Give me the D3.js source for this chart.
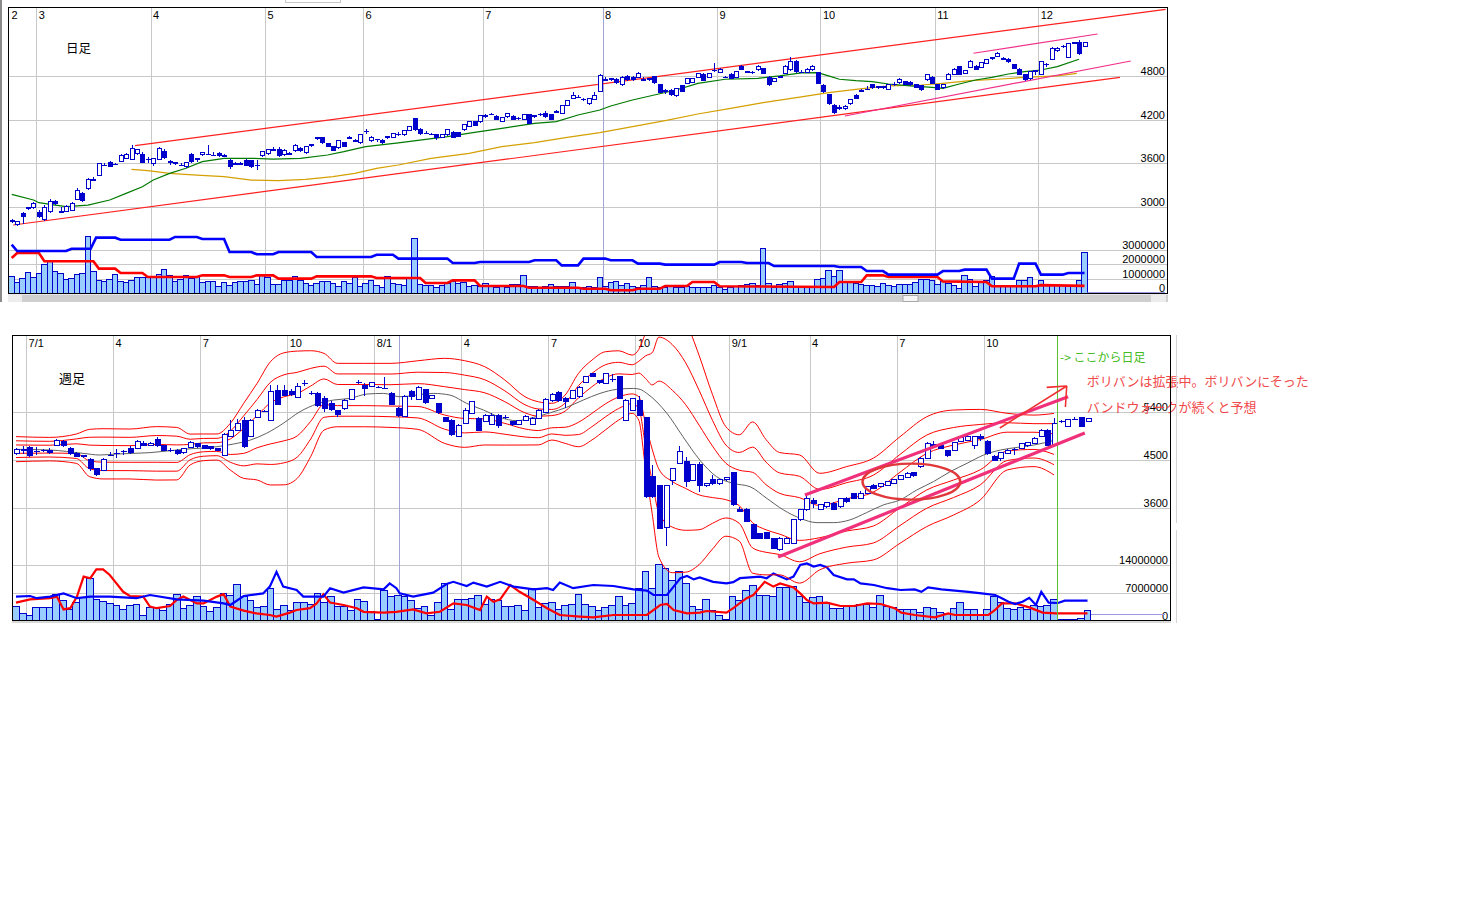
<!DOCTYPE html>
<html><head><meta charset="utf-8"><title>chart</title>
<script src="https://cdn.jsdelivr.net/npm/d3@7/dist/d3.min.js"></script>
<style>html,body{margin:0;padding:0;background:#fff;}svg{display:block;}</style>
</head><body>
<svg id="chart" width="1459" height="916"></svg>
<script>
// ================= DATA : daily chart (日足) =================
const dailyMonthLabels = ["2","3","4","5","6","7","8","9","10","11","12"];
const dailyMonthStart  = [0,5,26,47,65,87,109,130,149,170,189];
const dailyPriceTicks  = [3000,3600,4200,4800];
const dailyVolTicks    = [0,1,2,3]; // millions
// [open, high, low, close]
const dailyOHLC = [
[2800,2830,2770,2800],[2760,2800,2740,2790],[2910,2930,2760,2870],[2970,3000,2950,2980],[2990,3060,2970,3040],[2920,2950,2850,2860],[2820,3030,2800,2990],[2930,3110,2910,3070],[3070,3090,3030,3040],[2950,2990,2920,2930],
[2930,3020,2920,3000],[2950,3070,2940,3040],[3100,3260,3090,3220],[3180,3200,3060,3080],[3250,3400,3230,3370],[3390,3410,3360,3370],[3430,3600,3420,3590],[3590,3610,3560,3570],[3610,3630,3550,3560],[3590,3610,3570,3580],
[3630,3730,3620,3710],[3670,3740,3660,3720],[3650,3850,3640,3800],[3740,3800,3720,3790],[3720,3760,3600,3610],[3630,3680,3600,3650],[3590,3670,3560,3660],[3650,3830,3640,3800],[3760,3790,3660,3680],[3600,3640,3580,3620],
[3600,3620,3570,3600],[3590,3610,3560,3570],[3560,3620,3530,3610],[3720,3740,3610,3630],[3640,3670,3620,3660],[3720,3760,3700,3750],[3740,3850,3710,3720],[3730,3760,3700,3710],[3730,3750,3690,3700],[3710,3730,3690,3700],
[3640,3660,3520,3550],[3590,3620,3570,3590],[3600,3620,3580,3590],[3640,3660,3560,3570],[3640,3650,3540,3560],[3570,3640,3500,3570],[3710,3770,3690,3760],[3740,3800,3720,3790],[3800,3820,3770,3780],[3790,3820,3690,3700],
[3720,3790,3700,3780],[3740,3760,3720,3730],[3770,3870,3760,3850],[3810,3830,3760,3770],[3750,3840,3730,3830],[3850,3870,3830,3850],[3940,3960,3920,3950],[3950,3960,3870,3880],[3870,3880,3820,3830],[3830,3840,3770,3780],
[3820,3920,3800,3910],[3880,3900,3820,3830],[3950,3970,3930,3950],[3920,3930,3900,3910],[3880,4000,3870,3990],[4020,4070,4000,4040],[3920,3980,3900,3960],[3910,3940,3900,3930],[3920,3930,3870,3880],[3960,3980,3940,3960],
[3960,4020,3950,4010],[4010,4030,3980,4000],[3990,4060,3980,4050],[4050,4120,4040,4110],[4220,4230,4040,4060],[4070,4080,3990,4010],[4030,4040,4000,4010],[4000,4020,3990,4000],[3990,4000,3920,3950],[3960,4000,3950,3990],
[3990,4070,3980,4060],[4030,4040,3950,3960],[4020,4030,3960,3970],[4060,4140,4050,4130],[4110,4180,4100,4170],[4170,4180,4110,4120],[4170,4270,4160,4260],[4250,4280,4230,4250],[4290,4300,4260,4270],[4240,4260,4200,4210],
[4180,4240,4170,4230],[4240,4290,4230,4280],[4240,4260,4200,4210],[4220,4240,4200,4220],[4200,4280,4190,4270],[4270,4280,4140,4150],[4240,4260,4230,4250],[4270,4290,4250,4270],[4290,4320,4230,4240],[4270,4280,4200,4210],
[4310,4330,4290,4310],[4290,4410,4280,4400],[4400,4470,4390,4460],[4490,4590,4480,4540],[4520,4540,4500,4510],[4480,4500,4460,4480],[4420,4500,4410,4490],[4480,4580,4470,4540],[4590,4830,4580,4810],[4770,4790,4740,4750],
[4760,4780,4740,4760],[4750,4770,4700,4710],[4680,4810,4670,4790],[4800,4820,4740,4750],[4790,4800,4740,4750],[4790,4860,4780,4840],[4770,4790,4740,4750],[4760,4780,4740,4760],[4800,4810,4700,4710],[4680,4690,4570,4580],
[4600,4620,4560,4600],[4610,4630,4530,4550],[4540,4640,4520,4630],[4670,4680,4580,4590],[4700,4780,4690,4770],[4720,4780,4710,4770],[4780,4850,4770,4840],[4820,4840,4730,4740],[4790,4850,4780,4840],[4880,4980,4860,4880],
[4850,4910,4840,4900],[4780,4800,4770,4780],[4830,4840,4760,4770],[4790,4870,4780,4860],[4940,4960,4890,4900],[4860,4880,4840,4860],[4850,4870,4830,4850],[4890,4950,4880,4940],[4910,4920,4830,4840],[4790,4800,4660,4680],
[4730,4780,4720,4770],[4790,4810,4780,4790],[4840,4950,4830,4940],[4890,5060,4880,5000],[5010,5020,4850,4860],[4870,4890,4840,4850],[4850,4910,4840,4900],[4890,4950,4880,4940],[4850,4860,4690,4700],[4670,4690,4570,4590],
[4550,4560,4410,4420],[4400,4420,4280,4300],[4380,4400,4340,4360],[4350,4400,4330,4390],[4420,4490,4410,4480],[4540,4550,4480,4490],[4600,4620,4580,4600],[4640,4660,4610,4620],[4690,4700,4630,4640],[4650,4670,4630,4650],
[4650,4670,4630,4650],[4620,4690,4610,4680],[4690,4720,4670,4690],[4710,4770,4700,4760],[4730,4740,4680,4690],[4720,4730,4670,4680],[4690,4700,4640,4650],[4670,4680,4600,4620],[4750,4830,4740,4820],[4790,4800,4690,4700],
[4680,4690,4610,4620],[4640,4690,4620,4680],[4760,4840,4750,4830],[4830,4910,4820,4900],[4930,4940,4820,4830],[4840,4890,4830,4880],[4920,5020,4910,5010],[4940,4960,4890,4900],[4920,5000,4910,4990],[4980,5040,4970,5030],
[5050,5070,5030,5050],[5070,5130,5060,5120],[5040,5060,5020,5040],[5030,5050,4990,5000],[4960,4970,4900,4910],[4900,4910,4820,4830],[4820,4830,4740,4750],[4770,4870,4750,4860],[4850,4880,4820,4870],[4830,5010,4820,5000],
[4960,4990,4930,4960],[5030,5200,5020,5190],[5150,5200,5140,5180],[5210,5230,5190,5210],[5060,5260,5050,5250],[5260,5280,5240,5260],[5270,5300,5100,5120],[5210,5270,5200,5260]
];
// volume, millions of shares
const dailyVolume = [
1.16,0.70,1.0,1.42,1.07,1.35,1.98,2.2,1.5,1.35,
0.93,0.98,1.28,1.33,3.95,1.5,0.88,0.77,0.95,1.3,
0.77,0.7,0.88,1.07,1.07,1.07,1.1,1.3,1.63,1.19,
0.81,0.93,1.2,1.0,1.16,0.74,0.81,0.81,0.47,0.7,
0.54,0.7,0.81,0.81,0.88,0.6,1.23,1.1,0.58,0.58,
0.88,0.88,1.16,0.88,0.65,0.54,0.65,0.77,0.81,0.65,
0.42,0.77,0.65,1.1,0.42,0.65,0.88,0.54,0.37,1.16,
0.65,0.6,0.54,1.1,3.8,0.58,0.49,0.49,0.37,0.49,
0.65,0.77,0.65,0.7,0.42,0.54,0.42,0.65,0.54,0.37,
0.47,0.37,0.58,0.6,1.23,0.42,0.47,0.37,0.42,0.6,
0.47,0.42,0.47,0.7,0.37,0.37,0.42,0.37,1.07,0.42,
0.7,0.81,0.54,0.65,0.42,0.37,0.54,1.1,0.42,0.37,
0.37,0.47,0.37,0.37,0.42,0.37,0.37,0.37,0.37,0.54,
0.37,0.23,0.35,0.47,0.54,0.6,0.65,0.54,3.1,0.65,
0.37,0.58,0.65,0.77,0.47,0.42,0.37,0.37,0.93,1.0,
1.58,1.16,1.58,0.77,0.7,0.65,0.58,0.51,0.51,0.47,
0.65,0.54,0.47,0.6,0.6,0.6,0.7,0.93,0.93,0.88,
0.58,0.77,0.65,0.54,0.3,1.23,0.95,0.47,0.81,0.88,
1.16,0.54,0.54,0.47,0.47,0.88,0.88,1.07,0.47,0.84,
0.58,0.58,0.54,0.54,0.54,0.54,0.88,2.86
];
// moving averages [candle index, price]
const dailyMAShort = [[0,3171],[4,3092],[5,3055],[8,3023],[10,3000],[14,3023],[18,3092],[21,3184],[24,3276],[26,3368],[29,3460],[32,3530],[35,3622],[39,3668],[44,3668],[48,3658],[53,3668],[58,3714],[61,3760],[65,3829],[71,3880],[80,3967],[85,4027],[90,4082],[96,4151],[100,4174],[104,4266],[108,4335],[110,4390],[114,4473],[118,4542],[122,4611],[126,4703],[131,4759],[137,4772],[141,4805],[145,4846],[148,4851],[150,4805],[152,4759],[155,4740],[158,4726],[161,4694],[165,4667],[169,4648],[171,4634],[174,4694],[177,4749],[180,4786],[183,4832],[186,4864],[189,4887],[192,4933],[196,5035]];
const dailyMALong = [[22,3516],[25,3497],[29,3460],[34,3437],[39,3414],[44,3368],[49,3359],[54,3378],[59,3414],[63,3460],[67,3530],[71,3576],[77,3668],[84,3737],[90,3829],[96,3884],[102,3958],[108,4022],[114,4105],[120,4188],[126,4280],[132,4358],[138,4436],[145,4515],[150,4574],[155,4620],[161,4667],[167,4680],[171,4703],[176,4740],[181,4759],[186,4786],[192,4805],[195.6,4841]];
// volume lines [candle index, millions]
const dailyVolLineBlue = [[0,3.37],[1,2.93],[10,2.93],[11,3.09],[14.5,3.09],[15.5,3.86],[19,3.86],[20,3.72],[29,3.72],[30,3.91],[34,3.91],[35,3.77],[39,3.77],[40,2.86],[44,2.86],[45,2.70],[48,2.70],[49,2.86],[55,2.86],[56,2.51],[66,2.51],[67,2.67],[70,2.67],[71,2.40],[80,2.40],[81,2.09],[85,2.09],[86,2.16],[95,2.16],[96,2.28],[100,2.28],[101,1.93],[104,1.93],[105,2.40],[109,2.40],[110,2.28],[114,2.28],[115,2.05],[119,2.05],[120,1.98],[129,1.98],[130,2.16],[134,2.16],[135,2.09],[139,2.09],[140,1.88],[151,1.88],[152,1.81],[156,1.81],[157,1.53],[160,1.53],[161,1.28],[170,1.28],[171,1.53],[174,1.53],[175,1.63],[179,1.63],[180,1.0],[184,1.0],[185,2.05],[188,2.05],[189,1.28],[193,1.28],[194,1.40],[197,1.40]];
const dailyVolLineRed = [[0,2.44],[1,2.79],[5,2.79],[6,2.21],[15,2.21],[16,1.70],[19,1.70],[20,1.40],[24,1.40],[25,1.12],[34,1.12],[35,1.23],[39,1.23],[40,1.12],[44,1.12],[45,1.23],[48,1.23],[49,1.0],[55,1.0],[56,1.16],[66,1.16],[67,1.05],[75,1.05],[76,0.70],[80,0.70],[81,0.88],[85,0.88],[86,0.49],[94,0.49],[95,0.37],[104,0.37],[105,0.30],[109,0.30],[110,0.19],[114,0.19],[115,0.30],[119,0.30],[120,0.49],[124,0.49],[125,0.77],[129,0.77],[130,0.47],[151,0.42],[152,0.77],[156,0.77],[157,1.23],[160,1.23],[161,1.12],[170,1.12],[171,0.81],[179,0.77],[180,0.47],[188,0.47],[189,0.55],[197,0.5]];
// drawn trend lines [[index, price],[index, price]]
const dailyTrendRed  = [[[22.64,3842],[211.9,5725]], [[0.29,2747],[203.5,4786]]];
const dailyTrendPink = [[[176.6,5118],[199.4,5384]], [[153,4252],[205.5,5011]]];

// ================= DATA : weekly chart (週足) =================
const weeklyTickLabels = ["7/1","4","7","10","8/1","4","7","10","9/1","4","7","10"];
const weeklyTickStart  = [2,15,28,41,54,67,80,93,107,119,132,145];
const weeklyYearMark   = 57.2;
const weeklyDailyFrom  = 156;
const weeklyPriceTicks = [3600,4500,5400];
const weeklyVolTicks   = [0,7,14]; // millions
const weeklyOHLC = [
[4624,4720,4600,4699],[4680,4760,4620,4690],[4736,4760,4560,4581],[4650,4740,4600,4655],[4670,4700,4640,4674],[4686,4720,4620,4636],[4779,4900,4760,4872],[4841,4870,4740,4761],[4717,4740,4590,4612],[4624,4640,4560,4574],
[4593,4600,4540,4562],[4512,4530,4300,4345],[4345,4360,4200,4239],[4301,4530,4290,4512],[4600,4640,4570,4587],[4624,4700,4540,4620],[4640,4680,4600,4660],[4711,4760,4620,4636],[4717,4880,4700,4854],[4810,4850,4760,4779],
[4779,4840,4760,4810],[4885,4920,4740,4761],[4761,4780,4660,4674],[4674,4720,4640,4674],[4674,4700,4590,4612],[4636,4730,4620,4717],[4736,4850,4720,4823],[4810,4820,4730,4748],[4761,4780,4700,4717],[4748,4770,4690,4705],
[4717,4730,4660,4674],[4593,5000,4570,4966],[4947,5250,4930,5059],[5059,5260,5040,5183],[5232,5300,4730,4748],[4947,5260,4930,5245],[5294,5450,5280,5431],[5400,5430,5390,5400],[5232,5900,5220,5772],[5803,5900,5520,5543],
[5803,5900,5700,5710],[5780,5820,5700,5720],[5667,5940,5650,5878],[5928,6000,5870,5928],[5741,5780,5720,5741],[5741,5760,5480,5524],[5648,5700,5400,5462],[5555,5600,5420,5450],[5419,5440,5300,5357],[5462,5640,5440,5617],
[5630,5830,5610,5816],[5940,5990,5920,5940],[5897,5930,5700,5834],[5878,5940,5860,5940],[5853,5880,5840,5853],[5853,6040,5820,5834],[5741,5760,5520,5543],[5462,5480,5300,5338],[5319,5720,5300,5692],[5785,5800,5620,5692],
[5630,5870,5610,5853],[5816,5830,5550,5568],[5648,5720,5630,5710],[5555,5570,5360,5381],[5294,5310,5200,5214],[5245,5260,4940,4966],[4947,5180,4920,5152],[5183,5460,5170,5419],[5369,5600,5350,5586],[5276,5300,5040,5059],
[5214,5360,5200,5338],[5170,5370,5150,5338],[5338,5350,5100,5152],[5294,5330,5260,5294],[5214,5230,5130,5170],[5170,5240,5160,5232],[5232,5330,5220,5319],[5170,5300,5160,5276],[5276,5450,5260,5431],[5381,5650,5370,5630],
[5605,5740,5590,5729],[5754,5790,5590,5605],[5648,5670,5460,5586],[5648,5810,5630,5803],[5679,5880,5660,5853],[5940,6070,5930,6052],[6114,6130,6040,6052],[5990,6000,5920,5940],[5928,6130,5910,6114],[6002,6100,5950,6002],
[6064,6070,5640,5648],[5232,5640,5220,5617],[5431,5660,5420,5648],[5605,5700,5320,5338],[5294,5310,3800,3817],[4190,4400,3790,3817],[4034,4040,3220,3228],[3246,4040,2900,4034],[4115,4360,4030,4345],[4438,4760,4420,4655],
[4469,4550,4000,4096],[4115,4420,4100,4407],[4407,4460,3900,4016],[4016,4080,4000,4065],[4140,4220,4030,4053],[4053,4140,4040,4128],[4128,4190,4100,4177],[4264,4280,3650,3662],[3569,3620,3530,3538],[3569,3600,3340,3352],
[3290,3300,3030,3041],[3122,3140,3030,3041],[3147,3160,3030,3041],[3041,3050,2840,2855],[2824,3060,2810,3041],[2948,3060,2930,3041],[2948,3400,2930,3383],[3383,3580,3370,3569],[3569,3820,3550,3786],[3742,3790,3600,3693],
[3581,3680,3560,3662],[3631,3720,3600,3705],[3693,3710,3560,3581],[3631,3800,3600,3786],[3786,3810,3700,3724],[3879,3890,3770,3786],[3786,3920,3770,3879],[3879,4020,3860,4003],[4016,4060,3960,3972],[4003,4080,3990,4065],
[4034,4110,4020,4096],[4065,4140,4050,4128],[4140,4220,4130,4202],[4177,4270,4160,4252],[4264,4280,4190,4202],[4376,4550,4360,4531],[4531,4830,4520,4810],[4779,4850,4760,4779],[4779,4800,4700,4717],[4674,4690,4560,4593],
[4686,4840,4670,4823],[4841,4940,4830,4922],[4872,4960,4860,4947],[4779,4950,4700,4934],[4947,4980,4860,4903],[4854,4870,4590,4612],[4574,4600,4480,4500],[4531,4650,4480,4636],[4624,4700,4610,4686],[4699,4720,4600,4699],
[4717,4820,4700,4810],[4761,4840,4750,4823],[4810,4920,4800,4903],[4934,5080,4920,5059],[5059,5080,4760,4779],[4779,5280,4760,5183],[5214,5240,5190,5214],[5121,5270,5110,5257],[5257,5300,5240,5257],[5294,5310,5110,5121],
[5214,5290,5200,5276]
];
const weeklyVolume = [
3.75,1.9,1.5,3.4,3.4,3.4,6.75,5.25,2.9,4.6,
5.8,10.7,5.4,4.8,4.4,4.0,2.9,4.0,4.25,1.5,
3.4,3.4,2.75,4.25,6.7,3.2,4.0,6.1,3.6,2.3,
3.4,6.9,6.5,9.2,6.1,5.1,3.4,3.6,8.2,2.9,
4.0,2.75,4.6,4.6,4.25,6.9,4.6,6.1,3.75,3.6,
2.75,5.4,4.8,2.3,0.4,7.75,6.1,6.5,6.25,5.1,
3.2,3.6,1.5,4.6,9.4,2.9,5.4,5.4,5.7,6.5,
4.25,5.4,5.1,3.6,3.75,4.0,2.75,8.2,3.4,4.4,
4.6,2.9,4.0,4.25,6.75,4.25,3.75,2.75,3.4,4.0,
6.1,4.0,4.4,8.2,12.3,8.2,14.25,13.2,10.1,12.3,
9.4,3.75,2.9,5.4,2.6,1.5,0.4,6.1,5.1,7.75,
9.0,6.5,6.5,6.1,8.4,8.4,8.6,6.1,4.6,5.8,
6.1,4.6,3.2,3.2,4.0,3.75,4.25,4.25,3.3,6.4,
3.6,3.4,2.9,2.9,2.9,2.1,3.4,3.2,2.1,1.9,
3.2,4.6,2.9,2.9,1.5,2.9,6.1,4.6,3.2,2.9,
3.4,2.9,4.0,3.75,3.8,5.5,0.5,0.5,0.5,0.75,
2.75
];
// grey moving average [week index, price]
const weeklyMA = [[0,4699],[5.1,4686],[10,4624],[12.5,4593],[15,4612],[20,4637],[25,4699],[30,4748],[32.5,4798],[35,4872],[37.4,4997],[39.9,5183],[42.4,5400],[44.9,5543],[47.4,5617],[49.9,5648],[52.4,5729],[54.9,5741],[57.3,5679],[62.3,5741],[64.8,5710],[67.3,5555],[69.8,5431],[72.3,5294],[74.8,5232],[77.3,5294],[79.8,5381],[82.2,5481],[84.7,5617],[87.2,5741],[89.7,5816],[92.2,5834],[93.2,5816],[94.2,5741],[97.2,5369],[99.6,4934],[102.1,4500],[104.6,4190],[107.1,4065],[109.6,4003],[112.1,3786],[114.6,3569],[117.1,3414],[119.6,3333],[122.1,3333],[124.5,3383],[127,3519],[129.5,3662],[132,3755],[134.5,3941],[137,4097],[139.5,4283],[142,4438],[144.5,4593],[147,4686],[149.6,4736],[152,4779],[155.2,4872]];
// Bollinger band [week index, mid, sigma]
const weeklyBand = [[0,4702,78],[5,4702,73],[9,4711,91],[11,4630,147],[13,4615,156],[17,4612,155],[21,4624,166],[24,4618,163],[26,4695,96],[28,4736,83],[30,4742,81],[32,4748,145],[34,4857,233],[36,5028,300],[38,5183,383],[40,5267,410],[42,5344,395],[44,5549,329],[46,5772,238],[48,5710,197],[52,5710,197],[56,5704,199],[60,5710,213],[64,5602,264],[67,5543,269],[70,5509,243],[73,5384,202],[76,5229,150],[78,5183,134],[80,5214,114],[82,5260,150],[84,5431,228],[86,5617,248],[88,5788,243],[90,5890,215],[92,5912,181],[93,5900,220],[94,5600,420],[95,5300,600],[96,5150,820],[98,4950,850],[100,4750,780],[102,4500,650],[104,4280,480],[106,4100,340],[108,3980,330],[110,3800,470],[112,3620,420],[114,3500,380],[117,3400,398],[120,3352,300],[124,3476,300],[128,3585,316],[132,3941,331],[136,4283,341],[140,4453,326],[144,4600,281],[148,4842,176],[152,4857,160],[155,4795,191]];
const weeklyBandSigmas = [-3,-2,-1,1,2,3];
// volume lines [week index, millions]
const weeklyVolLineBlue = [[0,6.1],[2.1,6.25],[3.1,5.7],[5.1,6.1],[7.1,6.9],[9.1,5.7],[11.1,6.1],[14,6.1],[18,5.7],[20,6.5],[24,5.4],[28,5.1],[31,4.4],[32,4.0],[34,6.25],[36.9,6.9],[37.9,8.6],[38.9,12.3],[39.9,8.6],[41.9,7.75],[42.9,6.1],[45.9,6.1],[46.9,8.2],[48.9,7.1],[51.9,8.4],[54.9,7.9],[55.8,9.4],[56.8,8.2],[57.3,6.9],[59.3,6.1],[62.3,7.1],[64.3,9.25],[65.3,9.8],[67.3,8.75],[68.3,9.6],[70.3,8.6],[72.3,9.8],[74.3,8.6],[77.3,7.9],[79.3,8.2],[80.2,7.75],[81.2,9.6],[83.2,8.2],[86.2,9.0],[89.2,8.75],[92.2,7.9],[94.2,7.6],[95.2,6.5],[97.2,6.5],[98.2,8.6],[99.2,10.7],[100.2,11.25],[101.2,10.4],[102.1,10.9],[104.1,9.8],[106.1,9.4],[107.1,9.7],[108.1,10.7],[111.1,11.1],[112.1,10.7],[113.1,11.9],[115.1,10.4],[116.1,11.1],[117.1,14.0],[118.1,14.4],[119.1,13.6],[120.1,14.0],[121.1,13.4],[122.1,11.5],[124.1,10.4],[125.1,10.4],[126.1,9.4],[128.1,9.0],[130.1,8.2],[132.1,7.75],[134.2,7.9],[135.2,7.3],[136.2,8.4],[138.2,7.9],[140.2,7.6],[142.2,7.3],[144.2,6.9],[146.2,6.5],[147.2,5.7],[148.2,4.8],[149.2,4.25],[150.3,4.8],[151.3,5.8],[152.3,4.0],[153.1,7.3],[154.2,4.6],[155.6,4.5],[156.6,5.1],[160,5.1]];
const weeklyVolLineRed = [[0,4.6],[2.1,5.4],[5.1,5.7],[6.1,6.1],[7.1,2.9],[8.1,3.2],[9.1,6.1],[10.1,11.1],[11.1,10.7],[12,12.9],[13,12.9],[14,11.5],[15,9.4],[16,7.3],[17,6.25],[19,6.1],[20,3.6],[21,3.2],[23,3.75],[24,5.25],[25,6.1],[27,4.4],[28,4.4],[30,6.1],[31,6.7],[32,3.6],[34,2.6],[35.9,1.9],[37.9,1.5],[38.9,1.1],[40.9,2.1],[41.9,2.75],[43.9,3.2],[44.9,4.4],[45.9,6.7],[46.9,4.6],[48.9,4.0],[50.9,3.2],[51.9,2.3],[54.9,2.1],[56.8,2.3],[59.3,2.9],[61.3,1.9],[63.3,2.3],[65.3,4.4],[67.3,4.0],[69.3,2.75],[70.3,6.1],[71.3,4.8],[72.3,5.4],[73.8,9.0],[75.2,7.3],[77.3,5.25],[79.3,3.2],[81.2,1.5],[84.2,1.1],[86.2,0.9],[89.2,1.5],[94.2,1.5],[96.2,4.0],[97.2,4.25],[98.2,2.75],[100.2,1.9],[102.1,2.1],[103.1,2.5],[106.1,2.1],[107.1,3.2],[109.1,5.7],[110.1,6.5],[111.8,9.8],[113.1,8.6],[114.1,9.4],[116.1,8.4],[117.1,6.9],[118.1,5.25],[119.1,4.4],[121.1,4.6],[123.1,3.75],[125.1,3.75],[127.1,4.4],[129.1,4.25],[131.2,3.2],[132.2,2.1],[134.2,1.5],[137.2,0.9],[139.2,1.9],[140.2,1.5],[145.2,1.5],[146.2,2.75],[147.2,4.4],[149.2,4.4],[151.3,3.4],[153.3,2.1],[155.3,1.9],[160,1.9]];
// annotations (week index, price)
const noteLinesPink = [[[117.8,3849],[157.1,5679]], [[113.8,2694],[159.6,5003]]];
const noteArrow = {from:[146.9,5096], tip:[156.9,5879], legA:[153.9,5854], legB:[156.7,5488]};
const noteEllipse = {cx:133.7, cy:4097, rx:7.3, ry:335};
const noteTexts = [
  {t:"-> ここから日足", j:155.9, p:6330, color:"#44bb22", size:12},
  {t:"ボリバンは拡張中。ボリバンにそった", j:159.9, p:5870, color:"#f04a4a", size:13},
  {t:"バンドウォークが続くと予想", j:159.9, p:5390, color:"#f04a4a", size:13}
];

// ================= RENDER =================
const FONT = "'Liberation Sans', Arial, sans-serif";
const JFONT = "'Noto Sans CJK JP', 'Noto Sans CJK SC', sans-serif";
const BLUE = "#0000cc";
const GRID = "#c8c8c8";
const svg = d3.select("#chart");
svg.append("rect").attr("width",1459).attr("height",916).attr("fill","#fff");
const defs = svg.append("defs");

function addClip(id, r){
  defs.append("clipPath").attr("id",id).append("rect")
    .attr("x",r.l).attr("y",r.t).attr("width",r.r-r.l).attr("height",r.b-r.t);
}
function yAxis(g, scale, ticks, fmt, R, labelX, hideZeroLine){
  const ax = d3.axisRight(scale).tickValues(ticks).tickSize(R.r-R.l).tickFormat(fmt);
  const a = g.append("g").attr("transform",`translate(${R.l},0)`).call(ax);
  a.select(".domain").remove();
  a.selectAll(".tick line").attr("stroke",GRID).attr("shape-rendering","crispEdges")
    .attr("stroke-opacity", d => (hideZeroLine && d===0) ? 0 : 1);
  a.selectAll(".tick text").attr("x",labelX-R.l).attr("dy",-1.5).attr("text-anchor","end")
    .attr("fill","#000").style("font-family",FONT).style("font-size","11px");
  return a;
}
function xAxis(g, scale, ticks, labels, R, markIdx, markColor, hideFirst){
  const ax = d3.axisTop(scale).tickValues(ticks).tickSize(-(R.b-R.t)).tickFormat((d,k)=>labels[k]);
  const a = g.append("g").attr("transform",`translate(0,${R.t})`).call(ax);
  a.select(".domain").remove();
  a.selectAll(".tick line").attr("stroke",(d,k)=>k===markIdx?markColor:GRID).attr("shape-rendering","crispEdges")
    .attr("stroke-opacity",(d,k)=> (hideFirst && k===0)?0:1);
  a.selectAll(".tick text").attr("x",2).attr("y",12).attr("dy",0).attr("text-anchor","start")
    .attr("fill","#000").style("font-family",FONT).style("font-size","11px");
  return a;
}
function drawVolume(g, vol, x, yv){
  const sp = x(1)-x(0);
  g.append("g").selectAll("rect").data(vol).join("rect")
    .attr("x",(d,i)=>x(i)-sp/2).attr("width",sp)
    .attr("y",d=>yv(d)).attr("height",d=>yv(0)-yv(d))
    .attr("fill","#99ccff").attr("stroke",BLUE).attr("stroke-width",1)
    .attr("shape-rendering","crispEdges");
}
function drawCandles(g, ohlc, x, y, bw){
  const data = ohlc.map((d,i)=>({i,o:d[0],h:d[1],l:d[2],c:d[3]}));
  const px = i => Math.round(x(i))+0.5;
  const cg = g.append("g").attr("shape-rendering","crispEdges");
  cg.selectAll("line.wick").data(data).join("line").attr("class","wick")
    .attr("x1",d=>px(d.i)).attr("x2",d=>px(d.i))
    .attr("y1",d=>y(d.h)).attr("y2",d=>y(d.l)).attr("stroke",BLUE);
  const body = data.filter(d=>Math.abs(y(d.o)-y(d.c))>=1.5);
  const doji = data.filter(d=>Math.abs(y(d.o)-y(d.c))<1.5);
  cg.selectAll("rect.body").data(body).join("rect").attr("class","body")
    .attr("x",d=>px(d.i)-bw/2).attr("width",bw)
    .attr("y",d=>y(Math.max(d.o,d.c))).attr("height",d=>y(Math.min(d.o,d.c))-y(Math.max(d.o,d.c)))
    .attr("fill",d=>d.c>=d.o?"#fff":BLUE).attr("stroke",BLUE);
  cg.selectAll("line.doji").data(doji).join("line").attr("class","doji")
    .attr("x1",d=>px(d.i)-bw/2-0.5).attr("x2",d=>px(d.i)+bw/2+0.5)
    .attr("y1",d=>y(d.c)).attr("y2",d=>y(d.c)).attr("stroke",BLUE).attr("stroke-width",1.5);
}

// ---------------- top : daily ----------------
const RT = {l:8, t:7, r:1168, b:294};
addClip("clipT", RT);
const x1  = d3.scaleLinear().domain([0, dailyOHLC.length-1]).range([11.7, 1084.5]);
const yP1 = d3.scaleLinear().domain([3000,4800]).range([206.7,76.3]);
const yV1 = d3.scaleLinear().domain([0,3]).range([293,250]);

// page decorations
svg.append("rect").attr("x",0).attr("y",0).attr("width",2).attr("height",302).attr("fill","#8a8a8a");
svg.append("rect").attr("x",285.5).attr("y",-1).attr("width",55).attr("height",3.5).attr("fill","#fff").attr("stroke","#c8c8c8");

const gT = svg.append("g");
yAxis(gT, yP1, dailyPriceTicks, d3.format("d"), RT, 1165, false);
yAxis(gT, yV1, dailyVolTicks, d=>d3.format("d")(d*1e6), RT, 1165, true);
xAxis(gT, x1, dailyMonthStart.map(i=>i-0.5), dailyMonthLabels, RT, 6, "#a4a4d4", true);

const gTp = gT.append("g").attr("clip-path","url(#clipT)");
drawVolume(gTp, dailyVolume, x1, yV1);
gTp.append("line").attr("x1",x1(dailyOHLC.length-1)+3).attr("x2",1165).attr("y1",yV1(0)-0.5).attr("y2",yV1(0)-0.5)
  .attr("stroke","#9a9ae0");
const lineT = (ys) => d3.line().x(d=>x1(d[0])).y(d=>ys(d[1]));
gTp.append("path").datum(dailyVolLineRed).attr("d",lineT(yV1)).attr("fill","none").attr("stroke","#ff0000").attr("stroke-width",2.6);
gTp.append("path").datum(dailyVolLineBlue).attr("d",lineT(yV1)).attr("fill","none").attr("stroke","#0000ff").attr("stroke-width",2.6);
gTp.append("path").datum(dailyMALong).attr("d",lineT(yP1)).attr("fill","none").attr("stroke","#d4a000").attr("stroke-width",1.2);
gTp.append("path").datum(dailyMAShort).attr("d",lineT(yP1)).attr("fill","none").attr("stroke","#007a00").attr("stroke-width",1.2);
dailyTrendRed.forEach(seg=>gTp.append("path").datum(seg).attr("d",lineT(yP1)).attr("fill","none").attr("stroke","#ff2020").attr("stroke-width",1.2));
dailyTrendPink.forEach(seg=>gTp.append("path").datum(seg).attr("d",lineT(yP1)).attr("fill","none").attr("stroke","#f0308a").attr("stroke-width",1.2));
drawCandles(gTp, dailyOHLC, x1, yP1, 4);
gT.append("text").attr("x",66).attr("y",53).text("日足").style("font-family",JFONT).style("font-size","12.5px").attr("fill","#000");
// frame + scrollbar
gT.append("rect").attr("x",RT.l+0.5).attr("y",RT.t+0.5).attr("width",RT.r-RT.l-1).attr("height",RT.b-RT.t-1)
  .attr("fill","none").attr("stroke","#000").attr("shape-rendering","crispEdges");
gT.append("rect").attr("x",8).attr("y",294.5).attr("width",1160).attr("height",7.5).attr("fill","#cfcfcf");
gT.append("rect").attr("x",8).attr("y",294.5).attr("width",14).attr("height",7.5).attr("fill","#ececec");
gT.append("rect").attr("x",903).attr("y",295.5).attr("width",15).attr("height",6).attr("fill","#f4f4f4").attr("stroke","#a8a8a8");
gT.append("rect").attr("x",1151).attr("y",294.5).attr("width",15).attr("height",7.5).attr("fill","#ececec");

// ---------------- bottom : weekly ----------------
const RB = {l:12, t:335, r:1171, b:621};
addClip("clipB", RB);
const x2  = d3.scaleLinear().domain([0, weeklyOHLC.length-1]).range([16, 1087.5]);
const yP2 = d3.scaleLinear().domain([3600,5400]).range([508.3,411.7]);
const yV2 = d3.scaleLinear().domain([0,14]).range([621,565]);

const gB = svg.append("g");
yAxis(gB, yV2, weeklyVolTicks, d=>d3.format("d")(d*1e6), RB, 1168, true);
xAxis(gB, x2, weeklyTickStart.map(i=>i-0.5), weeklyTickLabels, RB, -1, GRID, false);
gB.append("line").attr("x1",Math.round(x2(weeklyYearMark))+0.5).attr("x2",Math.round(x2(weeklyYearMark))+0.5)
  .attr("y1",RB.t).attr("y2",RB.b).attr("stroke","#a4a4d4");
const gBp = gB.append("g").attr("clip-path","url(#clipB)");
drawVolume(gBp, weeklyVolume, x2, yV2);
gBp.append("line").attr("x1",x2(weeklyOHLC.length-1)+3.5).attr("x2",1165).attr("y1",614.5).attr("y2",614.5).attr("stroke","#9a9ae0");
const lineB = (ys) => d3.line().x(d=>x2(d[0])).y(d=>ys(d[1]));
gBp.append("path").datum(weeklyVolLineRed).attr("d",lineB(yV2)).attr("fill","none").attr("stroke","#ff0000").attr("stroke-width",2.2);
gBp.append("path").datum(weeklyVolLineBlue).attr("d",lineB(yV2)).attr("fill","none").attr("stroke","#0000ff").attr("stroke-width",2.2);
weeklyBandSigmas.forEach(k=>{
  gBp.append("path").datum(weeklyBand)
    .attr("d", d3.line().curve(d3.curveMonotoneX).x(d=>x2(d[0])).y(d=>yP2(d[1]+k*d[2])))
    .attr("fill","none").attr("stroke","#ff0000").attr("stroke-width",1);
});
gBp.append("path").datum(weeklyMA).attr("d",d3.line().curve(d3.curveMonotoneX).x(d=>x2(d[0])).y(d=>yP2(d[1])))
  .attr("fill","none").attr("stroke","#606060").attr("stroke-width",1);
drawCandles(gBp, weeklyOHLC, x2, yP2, 5);
yAxis(gB, yP2, weeklyPriceTicks, d3.format("d"), RB, 1168, false).lower();
gB.select("g").lower();
gB.append("line").attr("x1",Math.round(x2(weeklyDailyFrom-0.5))+0.5).attr("x2",Math.round(x2(weeklyDailyFrom-0.5))+0.5)
  .attr("y1",RB.t).attr("y2",RB.b).attr("stroke","#5cc030");
// annotations
const gN = gB.append("g").attr("clip-path","url(#clipB)");
noteLinesPink.forEach(seg=>gN.append("path").datum(seg).attr("d",lineB(yP2)).attr("fill","none")
  .attr("stroke","#f0307a").attr("stroke-width",3.2));
gN.append("ellipse").attr("cx",x2(noteEllipse.cx)).attr("cy",yP2(noteEllipse.cy))
  .attr("rx",x2(noteEllipse.rx)-x2(0)).attr("ry",yP2(noteEllipse.cy-noteEllipse.ry)-yP2(noteEllipse.cy))
  .attr("fill","none").attr("stroke","#e0383a").attr("stroke-width",2.4);
const arrowPts = [[noteArrow.from, noteArrow.tip],[noteArrow.legA, noteArrow.tip],[noteArrow.tip, noteArrow.legB]];
arrowPts.forEach(seg=>gN.append("path").datum(seg).attr("d",lineB(yP2)).attr("fill","none").attr("stroke","#f03030").attr("stroke-width",1.6));
gB.append("text").attr("x",59).attr("y",383).text("週足").style("font-family",JFONT).style("font-size","13px").attr("fill","#000");
noteTexts.forEach(n=>gB.append("text").attr("x",x2(n.j)).attr("y",yP2(n.p)).text(n.t)
  .style("font-family",JFONT).style("font-size",n.size+"px").attr("fill",n.color));
gB.append("rect").attr("x",RB.l+0.5).attr("y",RB.t+0.5).attr("width",RB.r-RB.l-1).attr("height",RB.b-RB.t-1)
  .attr("fill","none").attr("stroke","#000").attr("shape-rendering","crispEdges");
gB.append("rect").attr("x",12).attr("y",621).attr("width",1159).attr("height",2).attr("fill","#d8d8d8");
gB.append("line").attr("x1",1176.5).attr("x2",1176.5).attr("y1",335).attr("y2",523).attr("stroke","#d4d4d4");
gB.append("line").attr("x1",1176.5).attr("x2",1176.5).attr("y1",530).attr("y2",623).attr("stroke","#d4d4d4");
</script>
</body></html>
